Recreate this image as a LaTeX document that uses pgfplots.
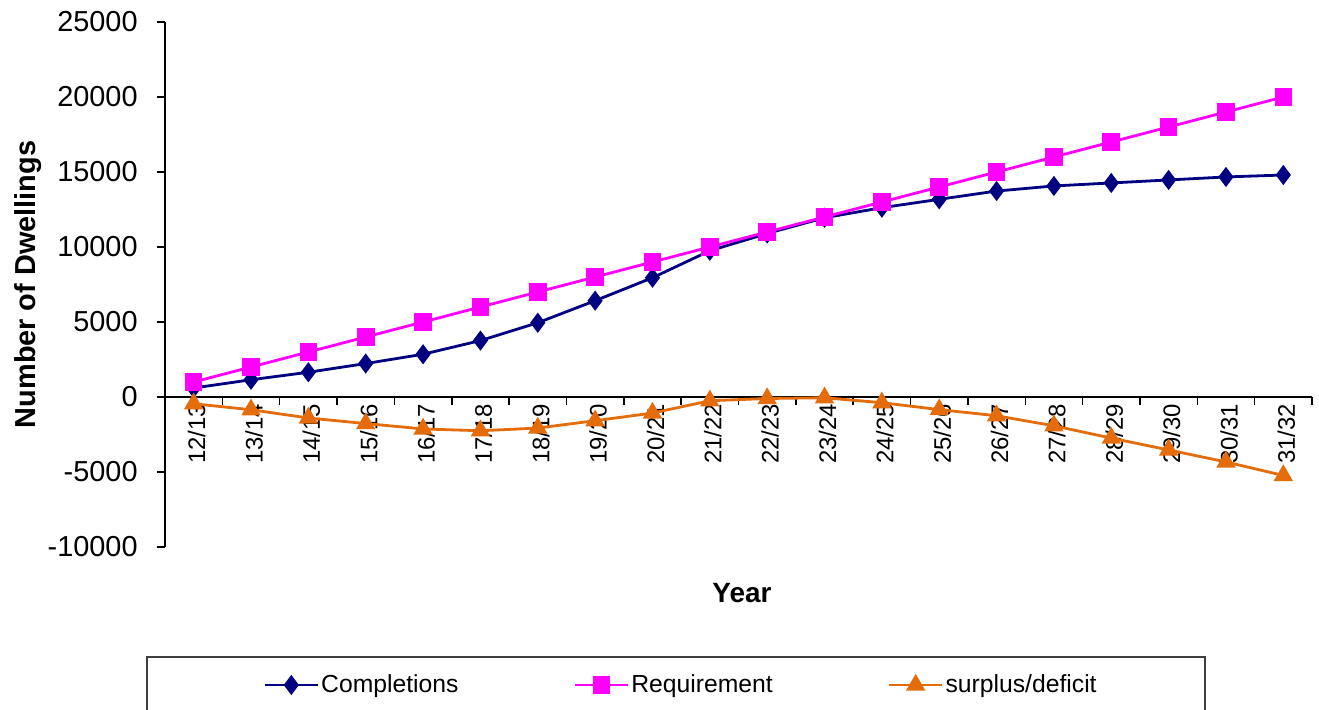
\documentclass[border=0pt]{standalone}
\usepackage{fontspec}
\setmainfont{Liberation Sans}
\usepackage{pgfplots}
\pgfplotsset{compat=1.18}
\definecolor{compcol}{RGB}{0,0,128}
\definecolor{reqcol}{RGB}{255,0,255}
\definecolor{surcol}{RGB}{228,108,10}
\begin{document}
\begin{tikzpicture}
\useasboundingbox (-82.5bp,-81.5bp) rectangle (577bp,273.5bp);
\clip (-82.5bp,-81.5bp) rectangle (577bp,273.5bp);
\begin{axis}[
 at={(0,0)}, anchor=south west,
 scale only axis, width=573.5bp, height=262.5bp,
 xmin=-0.5, xmax=19.5, ymin=-10000, ymax=25000,
 scaled y ticks=false,
 axis x line=middle, axis y line=left,
 axis line style={-, line width=0.75bp, black},
 hide obscured x ticks=false, hide obscured y ticks=false,
 tick align=outside,
 major tick length=4bp,
 tick style={black, line width=0.75bp},
 ytick={-10000,-5000,0,5000,10000,15000,20000,25000},
 yticklabels={-10000,-5000,0,5000,10000,15000,20000,25000},
 yticklabel style={font=\fontsize{14.5}{16}\selectfont, inner sep=0pt, xshift=-9.5bp, anchor=east},
 xtick={-0.5,0.5,...,19.5}, xticklabels={},
 extra x ticks={0,1,...,19},
 extra x tick labels={12/13,13/14,14/15,15/16,16/17,17/18,18/19,19/20,20/21,21/22,22/23,23/24,24/25,25/26,26/27,27/28,28/29,29/30,30/31,31/32},
 extra x tick style={major tick length=0pt, xticklabel style={rotate=90, anchor=east, yshift=-1.5bp, font=\fontsize{12}{13}\selectfont}},
 every axis x label/.style={at={([yshift=-23bp]axis description cs:0.503,0)}, anchor=center, font=\fontsize{14}{16}\selectfont\bfseries},
 every axis y label/.style={at={([xshift=-68.5bp]axis description cs:0,0.5)}, rotate=90, anchor=center, font=\fontsize{14.5}{16}\selectfont\bfseries},
 xlabel={Year},
 ylabel={Number of Dwellings},
 legend columns=3,
 legend style={at={([xshift=49bp,yshift=-69bp]axis description cs:0,0)}, anchor=west, draw=none, fill=none, inner sep=0pt,
   font=\fontsize{12.4}{14}\selectfont, nodes={inner sep=1bp},
   /tikz/every even column/.append style={column sep=56.5bp}},
 legend image code/.code={\draw[mark repeat=2,mark phase=2] plot coordinates {(0bp,0bp) (13.25bp,0bp) (26.5bp,0bp)};},
]
\addplot[color=compcol, line width=1.4bp, mark=diamond*, mark size=3.9bp, mark options={solid, fill=compcol}] coordinates {
(0,600) (1,1150) (2,1650) (3,2230) (4,2850) (5,3760) (6,4950) (7,6420) (8,7950) (9,9750)
(10,10900) (11,11950) (12,12620) (13,13180) (14,13730) (15,14070) (16,14270) (17,14470) (18,14670) (19,14800)};
\addlegendentry{Completions}
\addplot[color=reqcol, line width=1.4bp, mark=square*, mark size=3.7bp, mark options={solid, fill=reqcol}] coordinates {
(0,1000) (1,2000) (2,3000) (3,4000) (4,5000) (5,6000) (6,7000) (7,8000) (8,9000) (9,10000)
(10,11000) (11,12000) (12,13000) (13,14000) (14,15000) (15,16000) (16,17000) (17,18000) (18,19000) (19,20000)};
\addlegendentry{Requirement}
\addplot[color=surcol, line width=1.4bp, mark=triangle*, mark size=4.2bp, mark options={solid, fill=surcol}] coordinates {
(0,-450) (1,-850) (2,-1400) (3,-1770) (4,-2130) (5,-2250) (6,-2070) (7,-1580) (8,-1070) (9,-250)
(10,-100) (11,-50) (12,-380) (13,-840) (14,-1250) (15,-1920) (16,-2740) (17,-3530) (18,-4330) (19,-5230)};
\addlegendentry{surplus/deficit}
\coordinate (SW) at (axis description cs:0,0);
\end{axis}
\draw[line width=0.8bp, black!75] ([xshift=-9bp,yshift=-55bp]SW) rectangle ([xshift=520bp,yshift=-110bp]SW);
\end{tikzpicture}
\end{document}
